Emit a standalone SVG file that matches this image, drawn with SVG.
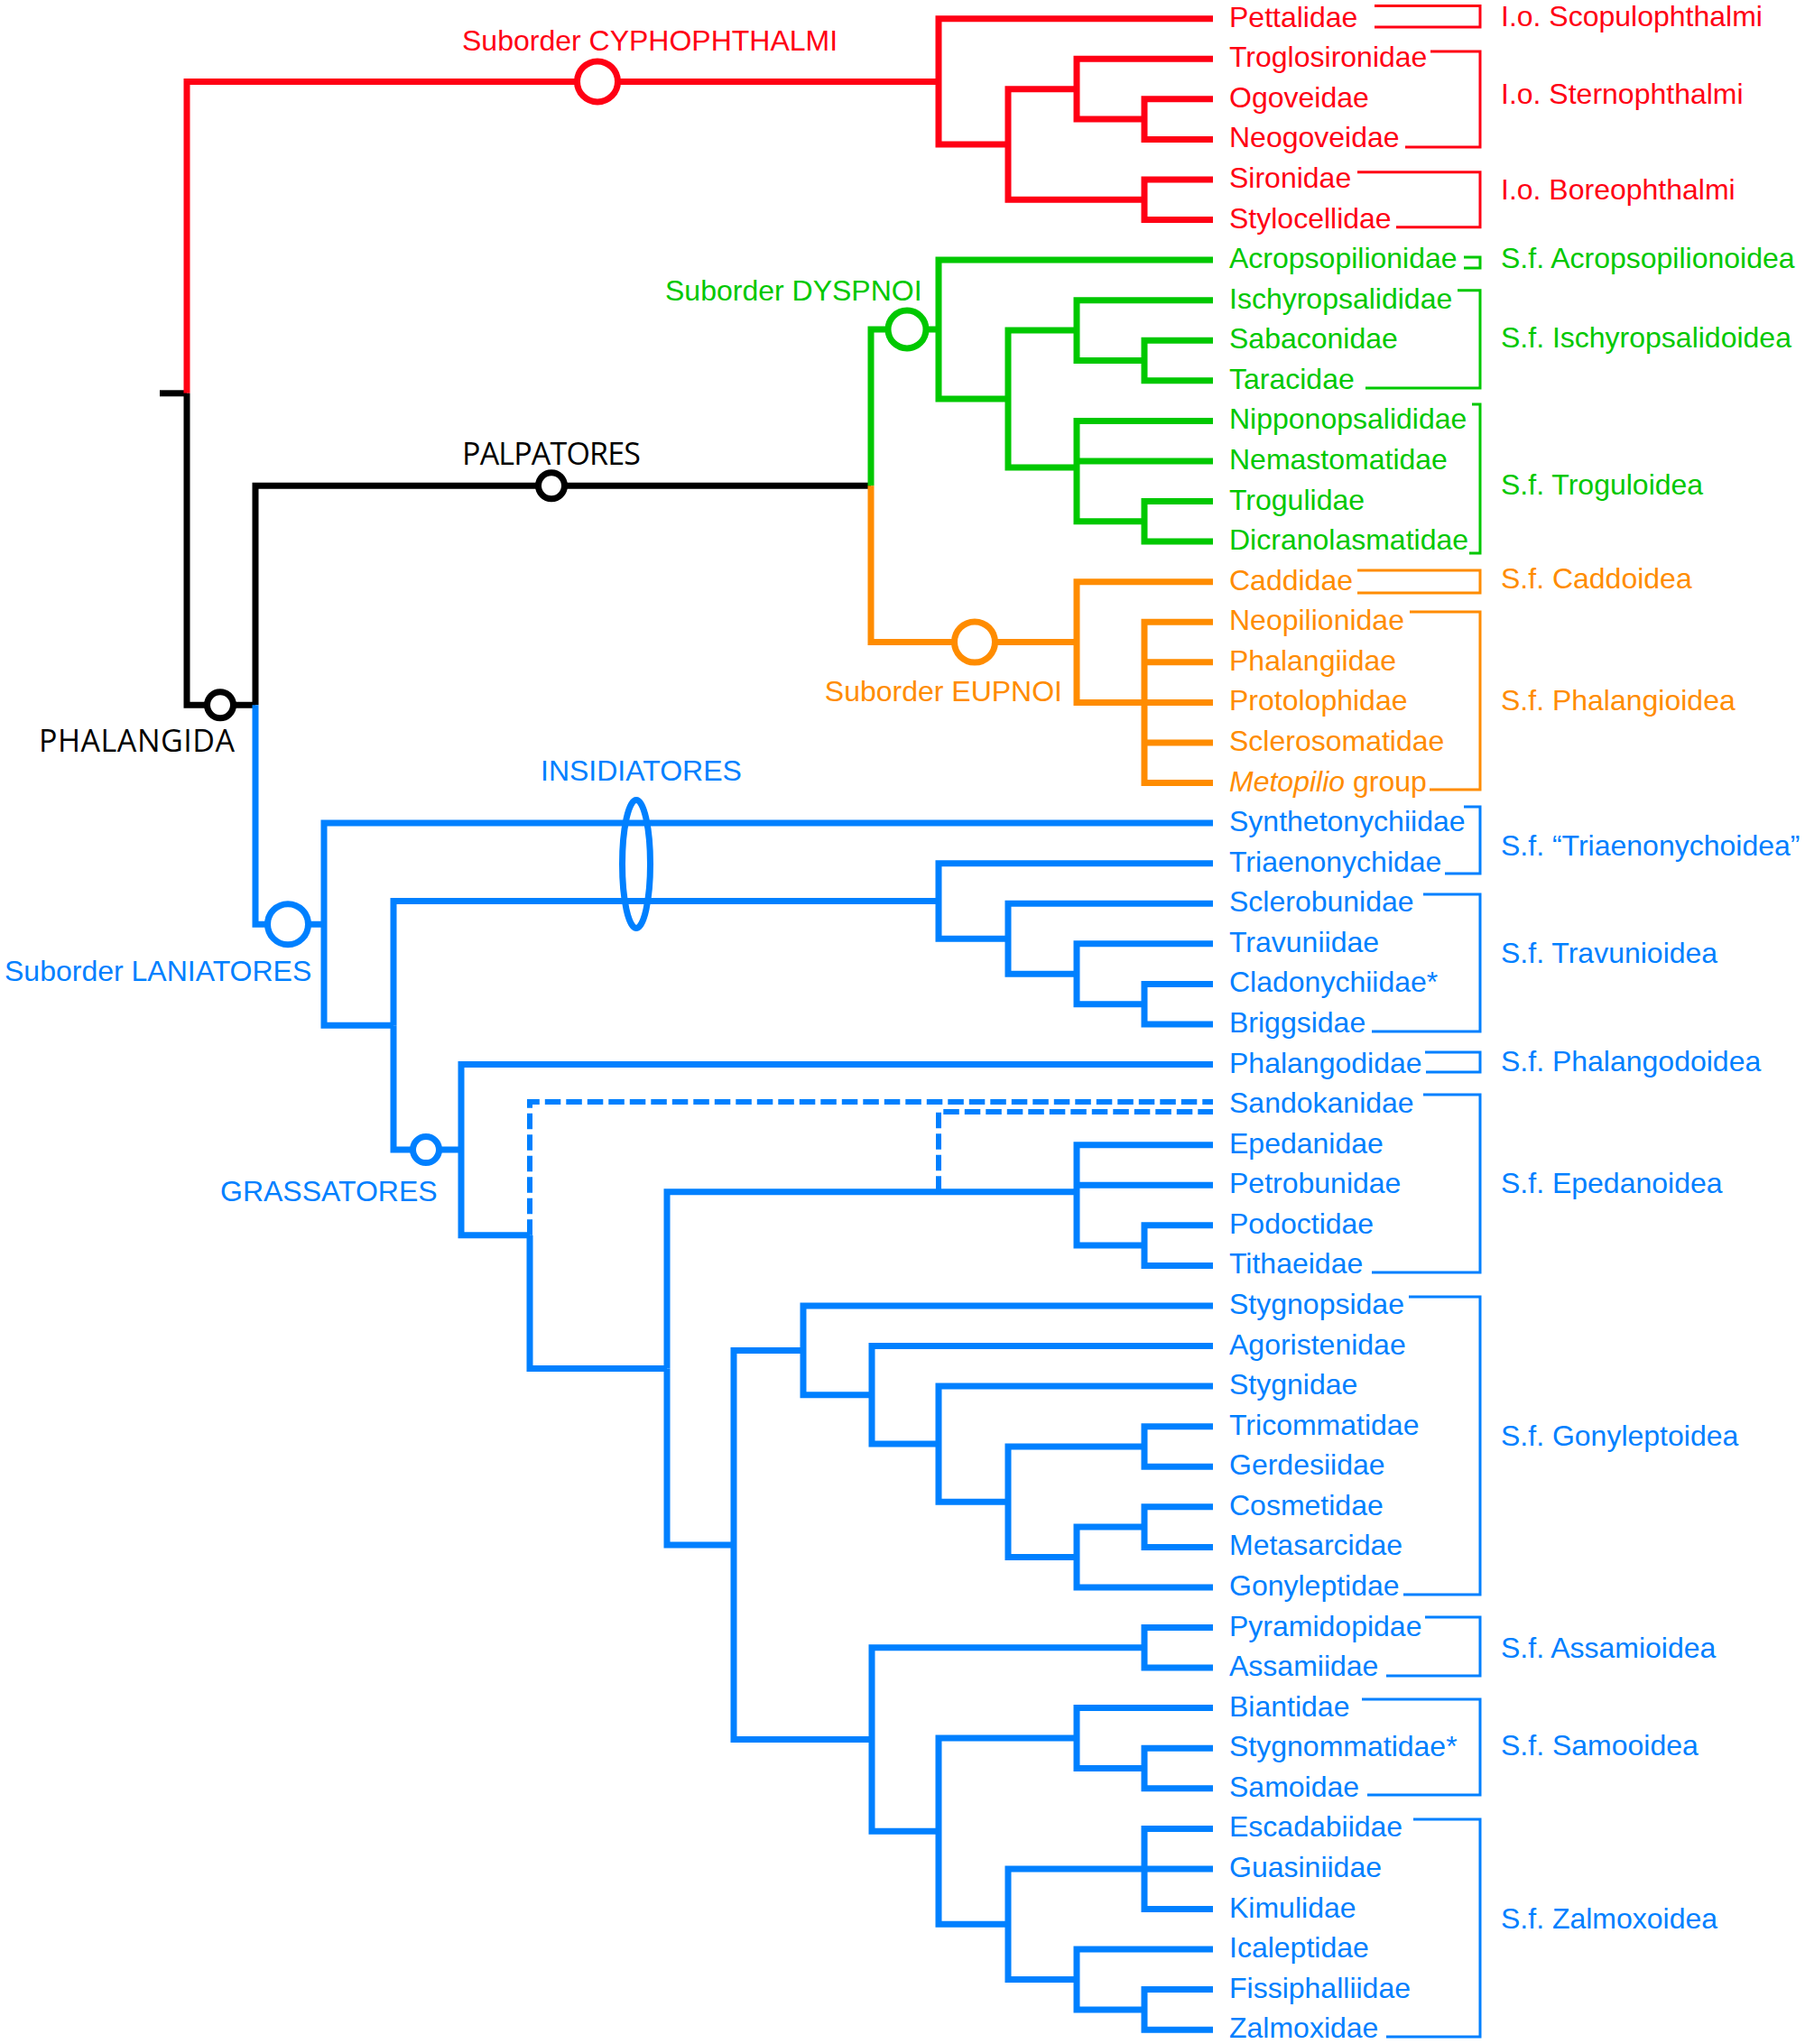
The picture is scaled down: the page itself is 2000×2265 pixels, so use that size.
<svg xmlns="http://www.w3.org/2000/svg" width="2000" height="2265" viewBox="0 0 2000 2265">
<style>
.e{fill:none;stroke-width:7;stroke-linejoin:miter;stroke-linecap:butt}
.d{fill:none;stroke-width:6;stroke-dasharray:17.5 6}
.br{fill:none;stroke-width:3}
.c{fill:#fff;stroke-width:7}
.R{stroke:#ff0014}.G{stroke:#00c800}.O{stroke:#ff8c00}.B{stroke:#0080ff}.K{stroke:#000}
text{font-family:"Liberation Sans",Arial,Helvetica,sans-serif;font-size:32px}
.tR{fill:#ff0014}.tG{fill:#00c800}.tO{fill:#ff8c00}.tB{fill:#0080ff}
.tK{fill:#000;font-family:"Open Sans","Noto Sans",sans-serif;font-size:34px}
</style>
<rect width="2000" height="2265" fill="#fff"/>
<g id="connectors">
<path class="e K" d="M177 435.8H207"/>
<path class="e R" d="M207 435.8V90.4H1040"/>
<path class="e R" d="M1040 90.4V20.7H1344M1040 90.4V160H1117M1117 160V98.7H1193M1193 98.7V65.3H1344M1193 98.7V132.1H1268M1268 132.1V109.8H1344M1268 132.1V154.4H1344M1117 160V221.3H1268M1268 221.3V199H1344M1268 221.3V243.6H1344"/>
<path class="e K" d="M207 435.8V781.3H283M283 781.3V538.3H965"/>
<path class="e G" d="M965 538.3V365H1040M1040 365V288.1H1344M1040 365V442H1117M1117 442V366.1H1193M1193 366.1V332.7H1344M1193 366.1V399.6H1268M1268 399.6V377.3H1344M1268 399.6V421.8H1344M1117 442V518H1193M1193 518V466.4H1344M1193 518V511H1344M1193 518V577.8H1268M1268 577.8V555.5H1344M1268 577.8V600.1H1344"/>
<path class="e O" d="M965 538.3V711.5H1193M1193 711.5V644.7H1344M1193 711.5V778.4H1268M1268 778.4V689.3H1344M1268 778.4V733.8H1344M1268 778.4H1344M1268 778.4V823H1344M1268 778.4V867.5H1344"/>
<path class="e B" d="M283 781.3V1024.2H359M359 1024.2V912.1H1344M359 1024.2V1136.3H436M436 1136.3V998.4H1040M1040 998.4V956.7H1344M1040 998.4V1040.2H1117M1117 1040.2V1001.2H1344M1117 1040.2V1079.2H1193M1193 1079.2V1045.8H1344M1193 1079.2V1112.7H1268M1268 1112.7V1090.4H1344M1268 1112.7V1135H1344"/>
<path class="e B" d="M436 1136.3V1274.1H511M511 1274.1V1179.5H1344M511 1274.1V1368.7H587M587 1368.7V1516.4H739M739 1516.4V1320.7H1193M1193 1320.7V1268.7H1344M1193 1320.7V1313.2H1344M1193 1320.7V1380.1H1268M1268 1380.1V1357.8H1344M1268 1380.1V1402.4H1344"/>
<path class="d B" d="M587 1368.7V1221H1344"/>
<path class="d B" d="M1040 1320.7V1232H1344"/>
<path class="e B" d="M739 1516.4V1712H813M813 1712V1496.4H890M890 1496.4V1446.9H1344M890 1496.4V1545.8H966M966 1545.8V1491.5H1344M966 1545.8V1600.1H1040M1040 1600.1V1536.1H1344M1040 1600.1V1664.2H1117M1117 1664.2V1602.9H1268M1268 1602.9V1580.7H1344M1268 1602.9V1625.2H1344M1117 1664.2V1725.5H1193M1193 1725.5V1692.1H1268M1268 1692.1V1669.8H1344M1268 1692.1V1714.4H1344M1193 1725.5V1758.9H1344"/>
<path class="e B" d="M813 1712V1927.5H966M966 1927.5V1825.8H1268M1268 1825.8V1803.5H1344M1268 1825.8V1848.1H1344M966 1927.5V2029.2H1040M1040 2029.2V1926.1H1193M1193 1926.1V1892.6H1344M1193 1926.1V1959.5H1268M1268 1959.5V1937.2H1344M1268 1959.5V1981.8H1344M1040 2029.2V2132.2H1117M1117 2132.2V2070.9H1268M1268 2070.9V2026.4H1344M1268 2070.9H1344M1268 2070.9V2115.5H1344M1117 2132.2V2193.5H1193M1193 2193.5V2160.1H1344M1193 2193.5V2226.9H1268M1268 2226.9V2204.6H1344M1268 2226.9V2249.2H1344"/>
</g>
<g id="node-cyphophthalmi"><circle class="c R" cx="662" cy="90.4" r="22.5"/><text class="tR" x="512" y="56">Suborder CYPHOPHTHALMI</text></g>
<g id="node-dyspnoi"><circle class="c G" cx="1005" cy="365" r="21"/><text class="tG" x="737" y="333">Suborder DYSPNOI</text></g>
<g id="node-eupnoi"><circle class="c O" cx="1080" cy="711.5" r="22.5"/><text class="tO" x="1177" y="777" text-anchor="end">Suborder EUPNOI</text></g>
<g id="node-palpatores"><circle class="c K" cx="611" cy="538.3" r="14.5"/><text class="tK" x="512" y="515" textLength="198">PALPATORES</text></g>
<g id="node-phalangida"><circle class="c K" cx="244" cy="781.3" r="14.5"/><text class="tK" x="43" y="833" textLength="217">PHALANGIDA</text></g>
<g id="node-laniatores"><circle class="c B" cx="319" cy="1024.2" r="22.5"/><text class="tB" x="5" y="1087">Suborder LANIATORES</text></g>
<g id="node-insidiatores"><ellipse fill="none" stroke-width="7" class="B" cx="705" cy="957.5" rx="15.5" ry="71"/><text class="tB" x="599" y="865">INSIDIATORES</text></g>
<g id="node-grassatores"><circle class="c B" cx="472" cy="1274.1" r="14.5"/><text class="tB" x="244" y="1331">GRASSATORES</text></g>
<g id="leaves">
<g class="tR">
<text x="1362" y="29.7">Pettalidae</text>
<text x="1362" y="74.3">Troglosironidae</text>
<text x="1362" y="118.8">Ogoveidae</text>
<text x="1362" y="163.4">Neogoveidae</text>
<text x="1362" y="208">Sironidae</text>
<text x="1362" y="252.6">Stylocellidae</text>
</g>
<g class="tG">
<text x="1362" y="297.1">Acropsopilionidae</text>
<text x="1362" y="341.7">Ischyropsalididae</text>
<text x="1362" y="386.3">Sabaconidae</text>
<text x="1362" y="430.8">Taracidae</text>
<text x="1362" y="475.4">Nipponopsalididae</text>
<text x="1362" y="520">Nemastomatidae</text>
<text x="1362" y="564.5">Trogulidae</text>
<text x="1362" y="609.1">Dicranolasmatidae</text>
</g>
<g class="tO">
<text x="1362" y="653.7">Caddidae</text>
<text x="1362" y="698.3">Neopilionidae</text>
<text x="1362" y="742.8">Phalangiidae</text>
<text x="1362" y="787.4">Protolophidae</text>
<text x="1362" y="832">Sclerosomatidae</text>
<text x="1362" y="876.5"><tspan font-style="italic">Metopilio</tspan> group</text>
</g>
<g class="tB">
<text x="1362" y="921.1">Synthetonychiidae</text>
<text x="1362" y="965.7">Triaenonychidae</text>
<text x="1362" y="1010.2">Sclerobunidae</text>
<text x="1362" y="1054.8">Travuniidae</text>
<text x="1362" y="1099.4">Cladonychiidae*</text>
<text x="1362" y="1144">Briggsidae</text>
<text x="1362" y="1188.5">Phalangodidae</text>
<text x="1362" y="1233.1">Sandokanidae</text>
<text x="1362" y="1277.7">Epedanidae</text>
<text x="1362" y="1322.2">Petrobunidae</text>
<text x="1362" y="1366.8">Podoctidae</text>
<text x="1362" y="1411.4">Tithaeidae</text>
<text x="1362" y="1455.9">Stygnopsidae</text>
<text x="1362" y="1500.5">Agoristenidae</text>
<text x="1362" y="1545.1">Stygnidae</text>
<text x="1362" y="1589.7">Tricommatidae</text>
<text x="1362" y="1634.2">Gerdesiidae</text>
<text x="1362" y="1678.8">Cosmetidae</text>
<text x="1362" y="1723.4">Metasarcidae</text>
<text x="1362" y="1767.9">Gonyleptidae</text>
<text x="1362" y="1812.5">Pyramidopidae</text>
<text x="1362" y="1857.1">Assamiidae</text>
<text x="1362" y="1901.6">Biantidae</text>
<text x="1362" y="1946.2">Stygnommatidae*</text>
<text x="1362" y="1990.8">Samoidae</text>
<text x="1362" y="2035.4">Escadabiidae</text>
<text x="1362" y="2079.9">Guasiniidae</text>
<text x="1362" y="2124.5">Kimulidae</text>
<text x="1362" y="2169.1">Icaleptidae</text>
<text x="1362" y="2213.6">Fissiphalliidae</text>
<text x="1362" y="2258.2">Zalmoxidae</text>
</g>
</g>
<g id="group-scopulophthalmi"><path class="br R" d="M1523 6.5H1640V30H1523"/><text class="tR" x="1663" y="28.5">I.o. Scopulophthalmi</text></g>
<g id="group-sternophthalmi"><path class="br R" d="M1585 57H1640V163H1557"/><text class="tR" x="1663" y="115">I.o. Sternophthalmi</text></g>
<g id="group-boreophthalmi"><path class="br R" d="M1504 190.7H1640V251.7H1547"/><text class="tR" x="1663" y="221">I.o. Boreophthalmi</text></g>
<g id="group-acropsopilionoidea"><path class="br G" d="M1622 285H1640V297H1622"/><text class="tG" x="1663" y="296.7">S.f. Acropsopilionoidea</text></g>
<g id="group-ischyropsalidoidea"><path class="br G" d="M1615 321.7H1640V430H1513"/><text class="tG" x="1663" y="385">S.f. Ischyropsalidoidea</text></g>
<g id="group-troguloidea"><path class="br G" d="M1631 448H1640V613H1628"/><text class="tG" x="1663" y="547.7">S.f. Troguloidea</text></g>
<g id="group-caddoidea"><path class="br O" d="M1504 632H1640V657H1504"/><text class="tO" x="1663" y="652">S.f. Caddoidea</text></g>
<g id="group-phalangioidea"><path class="br O" d="M1562 678H1640V875H1584"/><text class="tO" x="1663" y="786.7">S.f. Phalangioidea</text></g>
<g id="group-triaenonychoidea"><path class="br B" d="M1622 894H1640V968H1601"/><text class="tB" x="1663" y="948">S.f. “Triaenonychoidea”</text></g>
<g id="group-travunioidea"><path class="br B" d="M1577 991H1640V1143H1520"/><text class="tB" x="1663" y="1067">S.f. Travunioidea</text></g>
<g id="group-phalangodoidea"><path class="br B" d="M1579 1166H1640V1188H1580"/><text class="tB" x="1663" y="1187">S.f. Phalangodoidea</text></g>
<g id="group-epedanoidea"><path class="br B" d="M1577 1213H1640V1410H1520"/><text class="tB" x="1663" y="1321.7">S.f. Epedanoidea</text></g>
<g id="group-gonyleptoidea"><path class="br B" d="M1561 1437H1640V1767H1555"/><text class="tB" x="1663" y="1602">S.f. Gonyleptoidea</text></g>
<g id="group-assamioidea"><path class="br B" d="M1579 1792H1640V1857H1536"/><text class="tB" x="1663" y="1837">S.f. Assamioidea</text></g>
<g id="group-samooidea"><path class="br B" d="M1509 1883H1640V1989H1515"/><text class="tB" x="1663" y="1945">S.f. Samooidea</text></g>
<g id="group-zalmoxoidea"><path class="br B" d="M1566 2016H1640V2257H1536"/><text class="tB" x="1663" y="2137">S.f. Zalmoxoidea</text></g>
</svg>
